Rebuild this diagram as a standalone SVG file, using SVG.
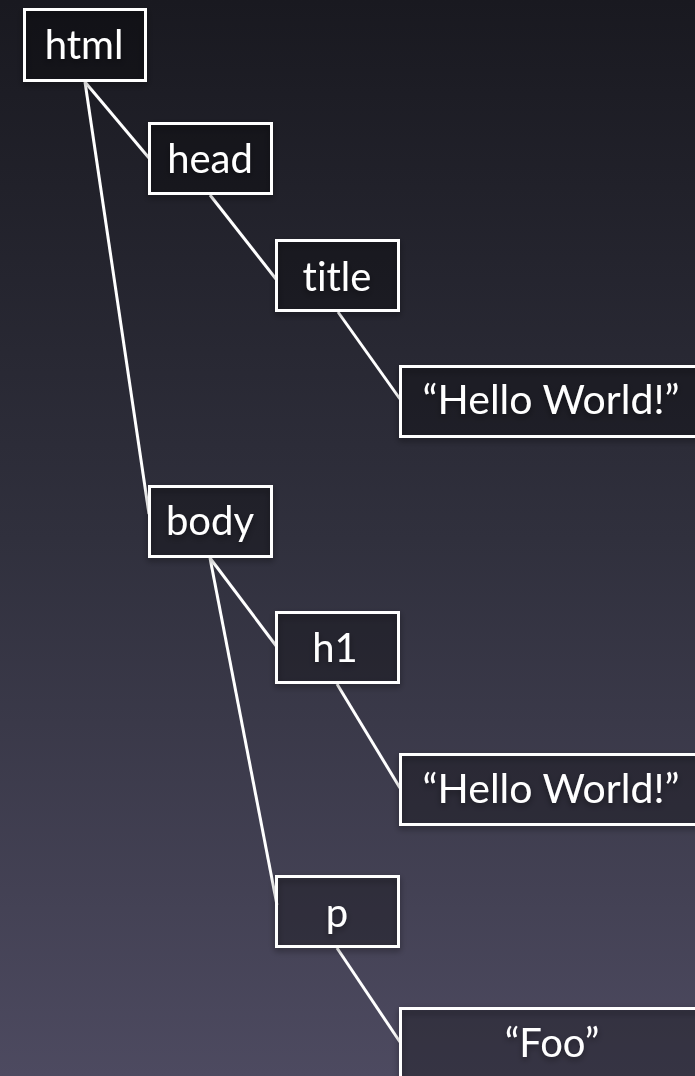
<svg xmlns="http://www.w3.org/2000/svg" width="695" height="1076" viewBox="0 0 695 1076">
  <defs>
    <linearGradient id="bg" x1="0" y1="0" x2="0" y2="1">
      <stop offset="0" stop-color="#191920"/>
      <stop offset="0.5" stop-color="#30303d"/>
      <stop offset="1" stop-color="#4d4a60"/>
    </linearGradient>
    <filter id="shadow" x="-20%" y="-20%" width="140%" height="150%">
      <feDropShadow dx="0" dy="3" stdDeviation="3" flood-color="#000" flood-opacity="0.45"/>
    </filter>
  </defs>
  <style>
    .box { fill: #000; fill-opacity: 0.22; stroke: #fff; stroke-width: 3; }
    .lbl { fill: #fff; font-family: Lato, "Open Sans", "DejaVu Sans", sans-serif; font-size: 40px; text-anchor: middle; font-variant-ligatures: none; }
    .wide { font-size: 41px; }
    .edge { stroke: #fff; stroke-width: 3; fill: none; }
  </style>
  <rect x="0" y="0" width="695" height="1076" fill="url(#bg)"/>
  <g id="connectors">
    <line class="edge" x1="85" y1="82" x2="149" y2="158"/>
    <line class="edge" x1="85" y1="82" x2="149" y2="514"/>
    <line class="edge" x1="210" y1="195" x2="276" y2="279"/>
    <line class="edge" x1="338" y1="312" x2="400" y2="399"/>
    <line class="edge" x1="210" y1="558" x2="277" y2="647"/>
    <line class="edge" x1="210" y1="558" x2="277" y2="905"/>
    <line class="edge" x1="337" y1="684" x2="400" y2="788"/>
    <line class="edge" x1="337" y1="948" x2="400" y2="1042"/>
  </g>
  <g id="node-html" filter="url(#shadow)">
    <rect class="box" x="24.5" y="9.5" width="121" height="71"/>
    <text class="lbl" x="84" y="59">html</text>
  </g>
  <g id="node-head" filter="url(#shadow)">
    <rect class="box" x="149.5" y="123.5" width="122" height="70"/>
    <text class="lbl" x="210" y="173">head</text>
  </g>
  <g id="node-title" filter="url(#shadow)">
    <rect class="box" x="276.5" y="240.5" width="122" height="70"/>
    <text class="lbl" x="337" y="291">title</text>
  </g>
  <g id="node-text1" filter="url(#shadow)">
    <rect class="box" x="400.5" y="366.5" width="310" height="70"/>
    <text class="lbl wide" x="551" y="414">“Hello World!”</text>
  </g>
  <g id="node-body" filter="url(#shadow)">
    <rect class="box" x="149.5" y="486.5" width="122" height="70"/>
    <text class="lbl" x="210" y="535">body</text>
  </g>
  <g id="node-h1" filter="url(#shadow)">
    <rect class="box" x="276.5" y="612.5" width="122" height="70"/>
    <text class="lbl" x="335" y="662">h1</text>
  </g>
  <g id="node-text2" filter="url(#shadow)">
    <rect class="box" x="400.5" y="754.5" width="310" height="70"/>
    <text class="lbl wide" x="551" y="803">“Hello World!”</text>
  </g>
  <g id="node-p" filter="url(#shadow)">
    <rect class="box" x="276.5" y="876.5" width="122" height="70"/>
    <text class="lbl" x="337" y="927">p</text>
  </g>
  <g id="node-text3" filter="url(#shadow)">
    <rect class="box" x="400.5" y="1008.5" width="310" height="90"/>
    <text class="lbl" x="552" y="1057">“Foo”</text>
  </g>
</svg>
